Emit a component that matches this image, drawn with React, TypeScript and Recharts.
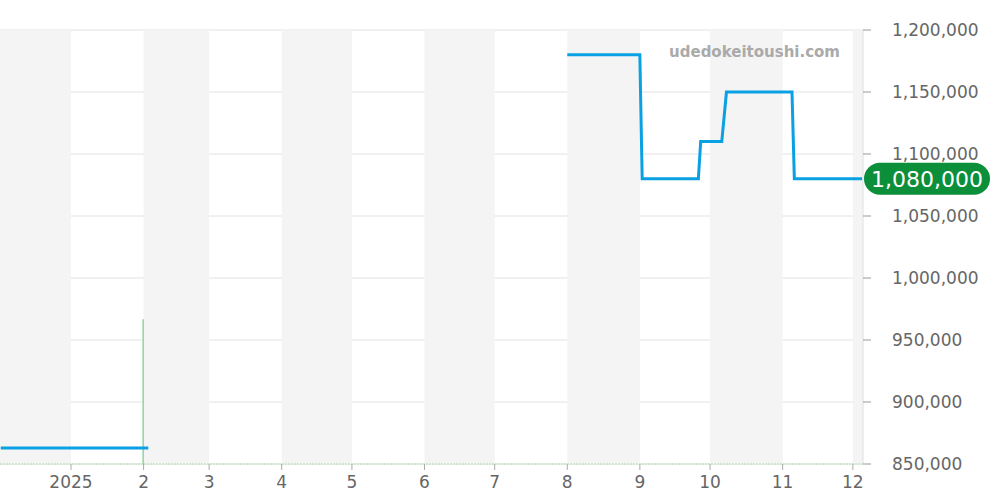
import React from "react";
import {
  ComposedChart,
  Line,
  Bar,
  XAxis,
  YAxis,
  CartesianGrid,
  ReferenceArea,
  ReferenceLine,
} from "recharts";

const t = (s: string) => Date.parse(s + "T00:00:00Z");

// price series (null marks the gap in listings)
const priceDates = [
  "2024-12-02", "2025-02-03", "2025-02-04",
  "2025-08-01", "2025-09-01", "2025-09-02", "2025-09-26", "2025-09-27",
  "2025-10-06", "2025-10-07", "2025-10-08", "2025-11-05", "2025-11-06", "2025-12-05",
];
const priceValues = [
  863000, 863000, null,
  1180000, 1180000, 1080000, 1080000, 1110000,
  1110000, 1130000, 1150000, 1150000, 1080000, 1080000,
];

const volumeDates = ["2025-02-01"];
const volumeValues = [1];

const monthTicks = [
  "2025-01-01", "2025-02-01", "2025-03-01", "2025-04-01", "2025-05-01", "2025-06-01",
  "2025-07-01", "2025-08-01", "2025-09-01", "2025-10-01", "2025-11-01", "2025-12-01",
];
const shadedMonths = [
  ["2024-12-01", "2025-01-01"],
  ["2025-02-01", "2025-03-01"],
  ["2025-04-01", "2025-05-01"],
  ["2025-06-01", "2025-07-01"],
  ["2025-08-01", "2025-09-01"],
  ["2025-10-01", "2025-11-01"],
  ["2025-12-01", "2026-01-01"],
];
const priceTicks = [850000, 900000, 950000, 1000000, 1050000, 1100000, 1150000, 1200000];

const lastPrice = 1080000;

const priceRows = priceDates.map((d, i) => ({ t: t(d), price: priceValues[i] }));
const volumeRows = volumeDates.map((d, i) => ({ t: t(d), vol: volumeValues[i] }));

const fmt = (v: number) => v.toLocaleString("en-US");

function Badge(props: any) {
  const vb = props.viewBox || {};
  const x = vb.x + vb.width + 1;
  const y = vb.y;
  return (
    <g>
      <rect x={x} y={y - 16} width={126} height={32} rx={16} fill="#0b8f3a" />
      <text
        x={x + 63}
        y={y + 1}
        textAnchor="middle"
        dominantBaseline="central"
        fill="#fff"
        fontSize={22}
        fontFamily="DejaVu Sans"
      >
        {fmt(lastPrice)}
      </text>
    </g>
  );
}

export default function App() {
  return (
    <div style={{ position: "absolute", left: 0, top: 0, width: 1000, height: 500, fontFamily: "DejaVu Sans" }}>
      <ComposedChart
        width={1000}
        height={500}
        data={volumeRows}
        margin={{ top: 30, right: 0, bottom: 0, left: 0 }}
      >
        {shadedMonths.map(([a, b]) => (
          <ReferenceArea
            key={a}
            yAxisId="price"
            x1={t(a)}
            x2={t(b)}
            fill="#f4f4f4"
            fillOpacity={1}
            ifOverflow="hidden"
          />
        ))}
        <CartesianGrid yAxisId="price" vertical={false} stroke="#e2e2e2" />
        <XAxis
          dataKey="t"
          type="number"
          scale="time"
          domain={[Date.parse("2024-12-01T16:00:00Z"), Date.parse("2025-12-05T08:00:00Z")]}
          allowDataOverflow
          ticks={monthTicks.map(t)}
          tickFormatter={(v: number) => {
            const d = new Date(v);
            return d.getUTCMonth() === 0 ? String(d.getUTCFullYear()) : String(d.getUTCMonth() + 1);
          }}
          height={36}
          tick={{ fill: "#666", fontSize: 17 }}
          tickLine={{ stroke: "#aaa" }}
          tickSize={6}
          tickMargin={6}
          axisLine={{ stroke: "#a8dbb0", strokeDasharray: "2 1" }}
        />
        <YAxis
          yAxisId="price"
          orientation="right"
          width={137}
          domain={[850000, 1200000]}
          ticks={priceTicks}
          tickFormatter={fmt}
          tick={{ fill: "#666", fontSize: 17, textAnchor: "start" }}
          tickLine={{ stroke: "#999" }}
          tickSize={8}
          tickMargin={21}
          axisLine={{ stroke: "#e0e0e0" }}
          interval={0}
        />
        <YAxis yAxisId="vol" hide domain={[0, 3]} />
        <Bar yAxisId="vol" dataKey="vol" barSize={1.5} fill="#8fd39a" isAnimationActive={false} />
        <Line
          yAxisId="price"
          data={priceRows}
          type="linear"
          dataKey="price"
          stroke="#0aa0e4"
          strokeWidth={3}
          dot={false}
          connectNulls={false}
          isAnimationActive={false}
        />
        <ReferenceLine yAxisId="price" y={lastPrice} stroke="none" label={<Badge />} />
      </ComposedChart>
      <div
        style={{
          position: "absolute",
          left: 600,
          top: 42,
          width: 240,
          textAlign: "right",
          fontSize: 15,
          fontWeight: "bold",
          color: "#aaa",
          lineHeight: "20px",
        }}
      >
        udedokeitoushi.com
      </div>
    </div>
  );
}
